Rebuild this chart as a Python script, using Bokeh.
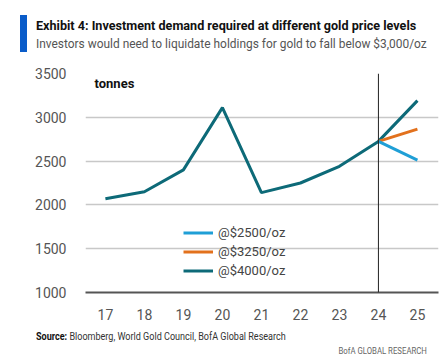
from bokeh.plotting import figure
from bokeh.models import Label, Span, Legend, LegendItem, FixedTicker, Div
from bokeh.layouts import column
from bokeh.embed import file_html
from bokeh.resources import INLINE

years = [17, 18, 19, 20, 21, 22, 23, 24, 25]
demand_4000 = [2070, 2150, 2400, 3110, 2140, 2250, 2440, 2725, 3190]
scenario_years = [24, 25]
demand_3250 = [2725, 2865]
demand_2500 = [2725, 2510]
y_ticks = [1000, 1500, 2000, 2500, 3000, 3500]

FONT = "Roboto"
TEAL = "#0d6a78"
ORANGE = "#e2711d"
LBLUE = "#1f9fd6"

header_html = """
<div style="position:relative;width:447px;height:60px;font-family:Roboto,sans-serif;">
  <div style="position:absolute;left:20px;top:15px;width:7px;height:37px;background:#0a5cc9;"></div>
  <div style="position:absolute;left:36px;top:18px;font-size:13px;line-height:16px;font-weight:bold;color:#111;white-space:nowrap;transform:scaleX(0.97);transform-origin:left center;">Exhibit 4: Investment demand required at different gold price levels</div>
  <div style="position:absolute;left:36px;top:36px;font-size:13px;line-height:16px;color:#555;white-space:nowrap;transform:scaleX(0.917);transform-origin:left center;">Investors would need to liquidate holdings for gold to fall below $3,000/oz</div>
</div>
"""
footer_html = """
<div style="position:relative;width:447px;height:35px;font-family:Roboto,sans-serif;">
  <div style="position:absolute;left:36px;top:8px;font-size:10px;line-height:14px;color:#333;white-space:nowrap;transform:scaleX(0.905);transform-origin:left center;"><b style="color:#111;">Source:</b> Bloomberg, World Gold Council, BofA Global Research</div>
  <div style="position:absolute;right:20px;top:23px;font-size:9.5px;line-height:12px;color:#666;white-space:nowrap;transform:scaleX(0.82);transform-origin:right center;">BofA GLOBAL RESEARCH</div>
</div>
"""
header = Div(text=header_html, width=447, height=60, styles={"margin": "0", "padding": "0"})
footer = Div(text=footer_html, width=447, height=35, styles={"margin": "0", "padding": "0"})

p = figure(width=447, height=262, output_backend="svg", toolbar_location=None,
           x_range=(16.49, 25.54), y_range=(1000, 3500),
           min_border_left=85, min_border_right=9, min_border_top=13, min_border_bottom=27)
p.outline_line_color = None
p.xgrid.grid_line_color = None
p.ygrid.grid_line_color = "#c8c8c8"
p.ygrid.grid_line_width = 1.3
p.yaxis.ticker = FixedTicker(ticks=y_ticks)
p.xaxis.ticker = FixedTicker(ticks=years)
for ax in (p.xaxis, p.yaxis):
    ax.major_tick_line_color = None
    ax.minor_tick_line_color = None
    ax.major_label_text_font = FONT
    ax.major_label_text_font_size = "14px"
    ax.major_label_text_color = "#555555"
p.yaxis.axis_line_color = None
p.yaxis.major_label_standoff = 13
p.xaxis.axis_line_color = "#555555"
p.xaxis.axis_line_width = 2
p.xaxis.major_label_standoff = 10

p.add_layout(Span(location=24, dimension="height", line_color="#222222", line_width=1))

r_teal = p.line(years, demand_4000, line_color=TEAL, line_width=3)
r_orange = p.line(scenario_years, demand_3250, line_color=ORANGE, line_width=3)
r_blue = p.line(scenario_years, demand_2500, line_color=LBLUE, line_width=3)

legend = Legend(items=[LegendItem(label="@$2500/oz", renderers=[r_blue]),
                       LegendItem(label="@$3250/oz", renderers=[r_orange]),
                       LegendItem(label="@$4000/oz", renderers=[r_teal])],
                location=(98, 12), orientation="vertical",
                glyph_width=30, glyph_height=19, label_height=19, spacing=0, padding=0, margin=0,
                label_standoff=5, border_line_color=None, background_fill_alpha=0,
                label_text_font=FONT, label_text_font_size="13px", label_text_color="#444444")
p.add_layout(legend, "center")

p.add_layout(Label(x=9, y=209, x_units="screen", y_units="screen", text="tonnes",
                   text_font=FONT, text_font_size="13px", text_font_style="bold",
                   text_color="#111111", text_baseline="middle"))

layout = column(header, p, footer, spacing=0)
open("out.html", "w").write(file_html(layout, INLINE))
